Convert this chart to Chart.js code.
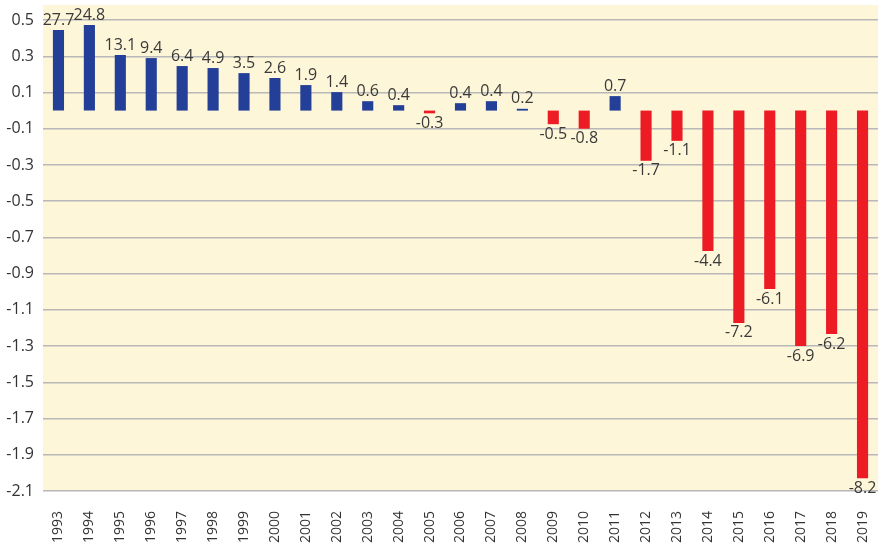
<!DOCTYPE html>
<html>
<head>
<meta charset="utf-8">
<script src="https://cdn.jsdelivr.net/npm/chart.js@4/dist/chart.umd.min.js"></script>
<style>
    html, body { margin: 0; padding: 0; background: #fff; }
    #wrap { width: 878px; height: 550px; }
</style>
</head>
<body>
<div id="wrap"><canvas id="chart"></canvas></div>
<script>
// Years on the x axis
const years = ['1993', '1994', '1995', '1996', '1997', '1998', '1999', '2000', '2001', '2002',
    '2003', '2004', '2005', '2006', '2007', '2008', '2009', '2010', '2011', '2012',
    '2013', '2014', '2015', '2016', '2017', '2018', '2019'];

// Bar heights
const barValues = [0.445, 0.472, 0.307, 0.29, 0.246, 0.235, 0.207, 0.18, 0.141, 0.102,
    0.052, 0.03, -0.015, 0.041, 0.052, 0.01, -0.075, -0.1, 0.08, -0.277,
    -0.167, -0.775, -1.172, -0.985, -1.3, -1.233, -2.029];

// Numbers printed at the end of each bar
const barLabels = ['27.7', '24.8', '13.1', '9.4', '6.4', '4.9', '3.5', '2.6', '1.9', '1.4',
    '0.6', '0.4', '-0.3', '0.4', '0.4', '0.2', '-0.5', '-0.8', '0.7', '-1.7',
    '-1.1', '-4.4', '-7.2', '-6.1', '-6.9', '-6.2', '-8.2'];

// Left axis ticks
const yTicks = [0.5, 0.3, 0.1, -0.1, -0.3, -0.5, -0.7, -0.9, -1.1, -1.3, -1.5, -1.7, -1.9, -2.1];

const blue = '#243f98';
const red = '#ed1c24';
const font = '"Open Sans", sans-serif';

// cream fill behind the plot
const plotBackground = {
    id: 'plotBackground',
    beforeDraw(chart) {
        const { ctx, chartArea } = chart;
        ctx.save();
        ctx.fillStyle = '#fdf6d8';
        ctx.fillRect(chartArea.left, chartArea.top, chartArea.right - chartArea.left, chartArea.bottom - chartArea.top);
        ctx.restore();
    }
};

// value labels above / below the bars
const barText = {
    id: 'barText',
    afterDatasetsDraw(chart) {
        const ctx = chart.ctx;
        const meta = chart.getDatasetMeta(0);
        ctx.save();
        ctx.font = '16px ' + font;
        ctx.fillStyle = '#3a3a3a';
        ctx.textAlign = 'center';
        meta.data.forEach((bar, i) => {
            if (barValues[i] >= 0) {
                ctx.textBaseline = 'bottom';
                // keep the top two labels inside the plot, as in the original
                ctx.fillText(barLabels[i], bar.x, Math.max(bar.y - 2, chart.chartArea.top + 17));
            } else {
                ctx.textBaseline = 'top';
                ctx.fillText(barLabels[i], bar.x, bar.y + 2);
            }
        });
        ctx.restore();
    }
};

new Chart(document.getElementById('chart'), {
    type: 'bar',
    data: {
        labels: years,
        datasets: [{
            data: barValues,
            backgroundColor: barValues.map(v => v >= 0 ? blue : red),
            barPercentage: 0.36,
            categoryPercentage: 1
        }]
    },
    options: {
        responsive: true,
        maintainAspectRatio: false,
        animation: false,
        layout: { padding: { top: 5, right: 0, left: 0, bottom: 0 } },
        plugins: {
            legend: { display: false },
            tooltip: { enabled: false }
        },
        scales: {
            x: {
                grid: { display: false },
                border: { display: false },
                ticks: {
                    color: '#333',
                    font: { family: font, size: 14 },
                    maxRotation: 90,
                    minRotation: 90,
                    autoSkip: false,
                    padding: 12
                },
                afterFit(scale) {
                    scale.height = 59;
                    scale.paddingLeft = 0;
                    scale.paddingRight = 0;
                }
            },
            y: {
                min: -2.1,
                max: 0.583,
                afterBuildTicks(scale) {
                    scale.ticks = yTicks.map(v => ({ value: v }));
                },
                grid: { color: '#b8b8b8', lineWidth: 1.5, drawTicks: false },
                border: { display: false },
                ticks: {
                    color: '#333',
                    font: { family: font, size: 16 },
                    padding: 9,
                    callback: v => v.toFixed(1)
                },
                afterFit(scale) {
                    scale.width = 43;
                    scale.paddingTop = 0;
                    scale.paddingBottom = 0;
                }
            }
        }
    },
    plugins: [plotBackground, barText]
});
</script>
</body>
</html>
